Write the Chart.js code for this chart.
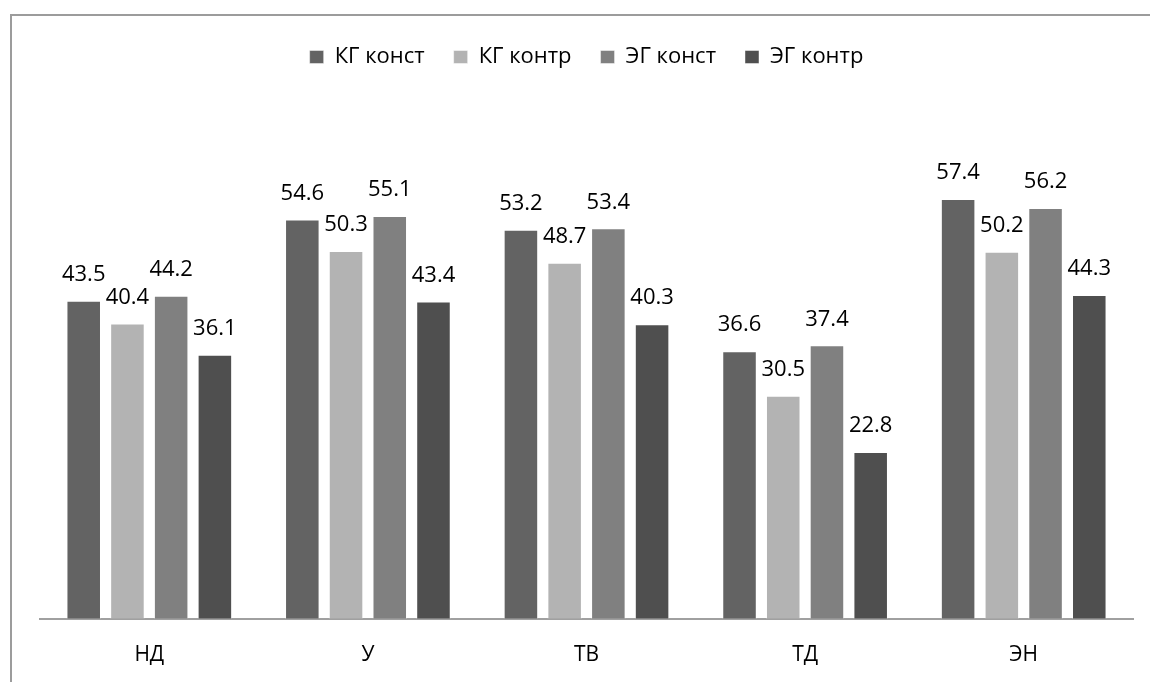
<!DOCTYPE html>
<html>
<head>
<meta charset="utf-8">
<script src="https://cdn.jsdelivr.net/npm/chart.js@4.4.1/dist/chart.umd.min.js"></script>
<style>
  html, body { margin: 0; padding: 0; background: #ffffff; }
  #wrap { position: relative; width: 1150px; height: 682px; }
  #frame { position: absolute; left: 10px; top: 14px; width: 1200px; height: 700px;
           border-top: 2px solid #9c9c9c; border-left: 2px solid #9c9c9c; box-sizing: border-box; }
  canvas { position: absolute; left: 0; top: 0; }
</style>
</head>
<body>
<div id="wrap">
  <div id="frame"></div>
  <canvas id="c" width="1150" height="682"></canvas>
</div>
<script>
const categories = ['НД', 'У', 'ТВ', 'ТД', 'ЭН'];
const seriesNames = ['КГ конст', 'КГ контр', 'ЭГ конст', 'ЭГ контр'];
const kgKonst = [43.5, 54.6, 53.2, 36.6, 57.4];
const kgKontr = [40.4, 50.3, 48.7, 30.5, 50.2];
const egKonst = [44.2, 55.1, 53.4, 37.4, 56.2];
const egKontr = [36.1, 43.4, 40.3, 22.8, 44.3];
const yMin = 0;
const yMax = 70;

const colors = ['#636363', '#b3b3b3', '#808080', '#4f4f4f'];
const seriesValues = [kgKonst, kgKontr, egKonst, egKontr];
const FONT = "'Open Sans', 'DejaVu Sans', sans-serif";

const valueLabels = {
  id: 'valueLabels',
  afterDatasetsDraw(chart) {
    const ctx = chart.ctx;
    ctx.save();
    ctx.font = "22px " + FONT;
    ctx.fillStyle = '#000000';
    ctx.textAlign = 'center';
    ctx.textBaseline = 'middle';
    chart.data.datasets.forEach((ds, di) => {
      const meta = chart.getDatasetMeta(di);
      meta.data.forEach((bar, i) => {
        ctx.fillText(ds.data[i].toFixed(1), bar.x, bar.y - 26);
      });
    });
    ctx.restore();
  }
};

const legendSpace = {
  id: 'legendSpace',
  beforeLayout(chart) {
    const lg = chart.legend;
    if (lg && !lg._patched) {
      const origFit = lg.fit;
      lg.fit = function () { origFit.call(this); this.height += 29; };
      lg._patched = true;
    }
  }
};

const chart = new Chart(document.getElementById('c'), {
  type: 'bar',
  data: {
    labels: categories,
    datasets: seriesNames.map((name, i) => ({
      label: name,
      data: seriesValues[i],
      backgroundColor: colors[i],
      borderColor: 'rgba(255,255,255,0.45)',
      borderWidth: 1,
      categoryPercentage: 0.80,
      barPercentage: 0.79
    }))
  },
  options: {
    responsive: false,
    animation: false,
    layout: { padding: { left: 40, right: 17, top: 17, bottom: -10 } },
    plugins: {
      tooltip: { enabled: false },
      legend: {
        position: 'top',
        labels: {
          boxWidth: 14,
          boxHeight: 13,
          padding: 29,
          color: '#000000',
          font: { family: FONT, size: 22 }
        }
      }
    },
    scales: {
      x: {
        grid: { display: false, drawTicks: false, tickLength: 0 },
        border: { display: true, color: '#a0a0a0', width: 2 },
        ticks: { color: '#000000', padding: 24, font: { family: FONT, size: 21 } }
      },
      y: {
        display: false,
        min: yMin,
        max: yMax
      }
    }
  },
  plugins: [valueLabels, legendSpace]
});
</script>
</body>
</html>
